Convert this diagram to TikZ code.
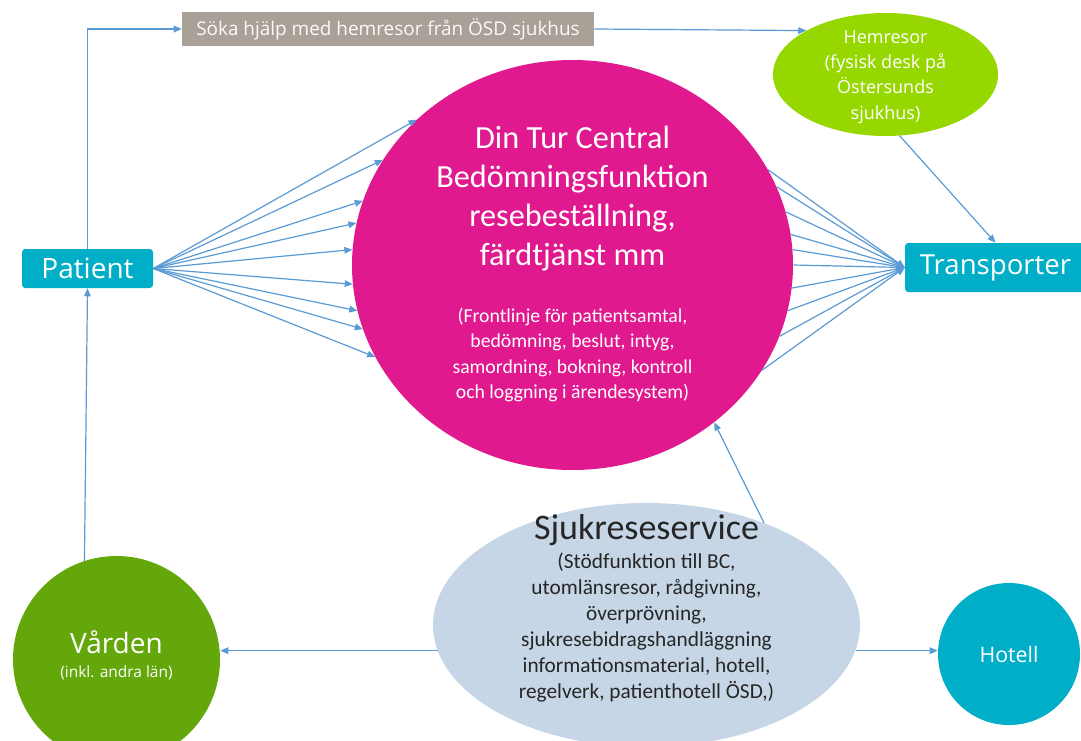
\documentclass[tikz,border=0pt]{standalone}
\usepackage{fontspec}
\usetikzlibrary{arrows.meta,shapes.geometric}
\newfontfamily\segfont{Open Sans}
\newfontfamily\calfont{Carlito}
\definecolor{arrowblue}{HTML}{5B9BD5}
\definecolor{magentac}{HTML}{E0198F}
\definecolor{tealc}{HTML}{00AEC7}
\definecolor{limec}{HTML}{97D700}
\definecolor{greenc}{HTML}{64A70B}
\definecolor{paleblue}{HTML}{C6D6E6}
\definecolor{graybox}{HTML}{A9A097}
\definecolor{darktext}{HTML}{262626}
\tikzset{
  arr/.style={draw=arrowblue, line width=0.9pt, -{Triangle[length=6pt,width=5pt]}},
  tealbox/.style={rectangle, rounded corners=2.5pt, fill=tealc, text=white, inner sep=0pt},
  blob/.style={ellipse, inner sep=0pt},
}
\begin{document}
\begin{tikzpicture}[x=0.75pt,y=-0.75pt]
\useasboundingbox[fill=white] (0,0) rectangle (1081,740);
% shapes
\node[blob, fill=magentac, minimum width=330.75pt, minimum height=307.5pt] (dtc) at (572.5,265) {};
\node[blob, fill=limec, minimum width=168.75pt, minimum height=92.25pt] (hem) at (885.5,74.5) {};
\node[blob, fill=paleblue, minimum width=320.25pt, minimum height=183pt] (sjuk) at (646.5,625) {};
\node[circle, fill=greenc, minimum size=155.25pt, inner sep=0pt] (varden) at (116.5,659.5) {};
\node[circle, fill=tealc, minimum size=106.5pt, inner sep=0pt, text=white, font=\segfont\fontsize{16}{19}\selectfont] (hotell) at (1009,654) {Hotell};
\node[tealbox, minimum width=98.25pt, minimum height=29.25pt, font=\segfont\fontsize{21}{25}\selectfont] (patient) at (87.5,268.5) {Patient};
\node[tealbox, minimum width=135.75pt, minimum height=36.75pt, font=\segfont\fontsize{20.7}{25}\selectfont] (trans) at (995.5,267.5) {Transporter};
\node[rectangle, fill=graybox, text=white!95!graybox, minimum width=309pt, minimum height=25.5pt, inner sep=0pt, font=\segfont\fontsize{14.2}{17}\selectfont] (topbox) at (388,29) {Söka hjälp med hemresor från ÖSD sjukhus};
% texts
\node[align=center, text=white, font=\calfont\fontsize{24.2}{29.25}\selectfont] (dtctitle) at (572.5,199) {Din Tur Central\\Bedömningsfunktion\\resebeställning,\\färdtjänst mm};
\node[align=center, text=white, font=\calfont\fontsize{14.8}{19}\selectfont] (dtcsub) at (572.5,355) {(Frontlinje för patientsamtal,\\bedömning, beslut, intyg,\\samordning, bokning, kontroll\\och loggning i ärendesystem)};
\node[align=center, text=white, font=\segfont\fontsize{13.5}{19}\selectfont] (hemtext) at (885.5,77) {Hemresor\\(fysisk desk på\\Östersunds\\sjukhus)};
\node[text=darktext, font=\calfont\fontsize{27}{32}\selectfont] (sjuktitle) at (646.5,530) {Sjukreseservice};
\node[align=center, text=darktext, font=\calfont\fontsize{16}{19.5}\selectfont] (sjuksub) at (646.5,628) {(Stödfunktion till BC,\\utomlänsresor, rådgivning,\\överprövning,\\sjukresebidragshandläggning\\informationsmaterial, hotell,\\regelverk, patienthotell ÖSD,)};
\node[text=white, font=\segfont\fontsize{21}{25}\selectfont] (vardentitle) at (116.5,642) {Vården};
\node[text=white, font=\segfont\fontsize{11.6}{14}\selectfont] (vardensub) at (116.5,673) {(inkl. andra län)};
% connectors
\draw[arr] (patient.north) |- (topbox.west);
\draw[arr] (topbox.east) -- (hem.151);
\draw[arr] (hem.-77) -- (trans.north);
\foreach \a in {137.6,151.8,163.1,169.9,176.4,185.9,192.0,197.6,205.9}
  \draw[arr] (patient.east) -- (dtc.\a);
\foreach \a in {26.4,21.1,14.7,8.2,4.6,0,-6.8,-12.6,-19.6,-29.2}
  \draw[arr] (dtc.\a) -- (trans.west);
\draw[arr] (sjuk.41.2) -- (dtc.-48.8);
\draw[arr] (sjuk.187.6) -- (sjuk.187.6 -| varden.east);
\draw[arr] (sjuk.-7.6) -- (sjuk.-7.6 -| hotell.west);
\draw[arr] (varden.108) -- (patient.south);
\end{tikzpicture}
\end{document}
